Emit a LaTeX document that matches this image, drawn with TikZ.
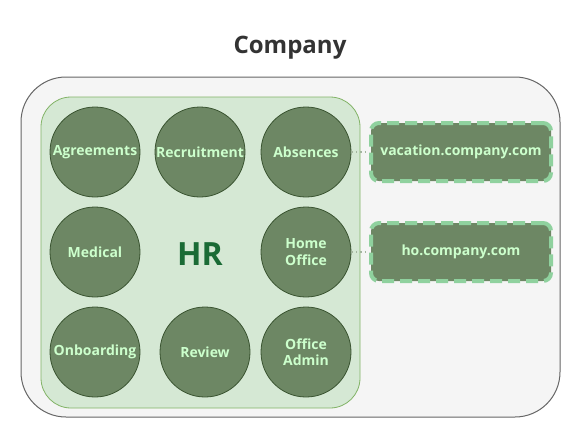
\documentclass[tikz,border=0pt]{standalone}
\usepackage{fontspec}
\setmainfont{Open Sans}
\usetikzlibrary{arrows.meta,positioning}
\definecolor{outerfill}{HTML}{F5F5F5}
\definecolor{outerline}{HTML}{666666}
\definecolor{hrfill}{HTML}{D5E8D4}
\definecolor{hrline}{HTML}{82B366}
\definecolor{unitfill}{HTML}{6D8764}
\definecolor{unitline}{HTML}{3A5431}
\definecolor{unittext}{HTML}{CCFFCC}
\definecolor{hrtext}{HTML}{1A6B35}
\definecolor{hostline}{HTML}{8FD19E}
\definecolor{linkline}{HTML}{A3B59E}
\definecolor{titletext}{HTML}{333333}

\begin{document}
\begin{tikzpicture}[x=1pt, y=-1pt,
    unit/.style={circle, fill=unitfill, draw=unitline, line width=0.8pt,
      minimum size=90pt, inner sep=0pt, text=unittext, align=center,
      font=\fontsize{14}{16.5}\selectfont\bfseries},
    host/.style={rectangle, rounded corners=8pt, fill=unitfill, draw=hostline,
      line width=4pt, dash pattern=on 12pt off 6pt,
      minimum width=180pt, minimum height=58pt, text=unittext,
      font=\fontsize{14}{16.5}\selectfont\bfseries},
    link/.style={draw=linkline, line width=1.5pt, dash pattern=on 1.5pt off 3pt}]
  \useasboundingbox (0,0) rectangle (581,440);

  % Title
  \node[anchor=base, text=titletext, font=\fontsize{24}{28}\selectfont\bfseries] (title) at (290,53) {Company};

  % Company frame
  \draw[fill=outerfill, draw=outerline, line width=1pt, rounded corners=45pt] (21,77) rectangle (560,417);

  % HR department
  \draw[fill=hrfill, draw=hrline, line width=0.8pt, rounded corners=30pt] (41,97) rectangle (360,408);
  \node[anchor=base, text=hrtext, font=\fontsize{32}{36}\selectfont\bfseries] (hr) at (200,265) {HR};

  % HR units
  \foreach \name/\px/\py/\txt in {agree/95/152/Agreements, recruit/200/152/Recruitment,
                                  absence/306/152/Absences, medical/95/252/Medical,
                                  homeoffice/306/252/{Home\\Office}, onboard/95/352/Onboarding,
                                  review/205/352/Review, officeadmin/306/352/{Office\\Admin}} {
    \node[unit] (\name) at (\px,\py) {\txt};
  }

  % Hosted services
  \node[host] (vacation) at (461,152) {vacation.company.com};
  \node[host] (ho) at (461,252) {ho.company.com};

  % Links
  \draw[link] (absence) -- (vacation);
  \draw[link] (homeoffice) -- (ho);

\end{tikzpicture}
\end{document}
